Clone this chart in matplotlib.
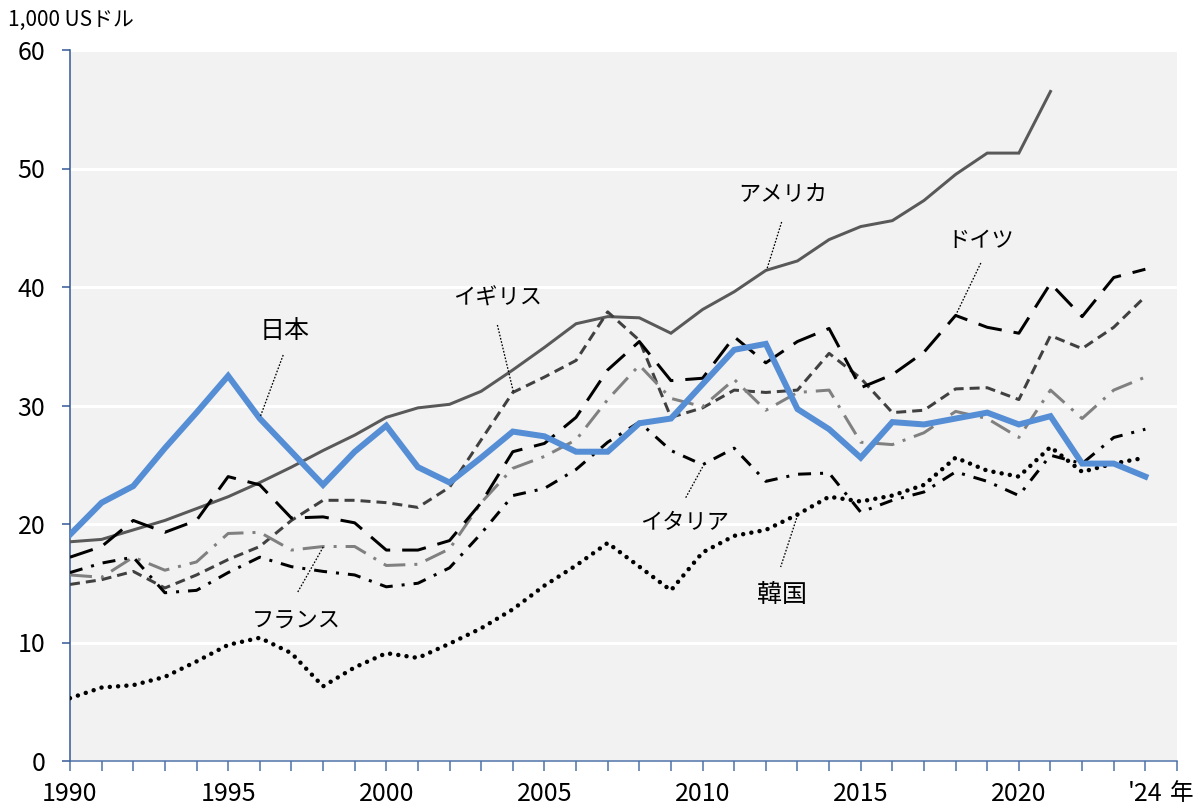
import matplotlib
matplotlib.use("Agg")
import matplotlib.pyplot as plt
import matplotlib.transforms as mtransforms

plt.rcParams['font.family'] = ['Noto Sans CJK JP', 'DejaVu Sans']
plt.rcParams['lines.scale_dashes'] = False

years = list(range(1990, 2025))

japan = [19.1, 21.8, 23.2, 26.4, 29.4, 32.5, 28.9, 26.1, 23.3, 26.1,
         28.3, 24.8, 23.5, 25.6, 27.8, 27.4, 26.1, 26.1, 28.5, 28.9,
         31.8, 34.7, 35.2, 29.7, 28.0, 25.6, 28.6, 28.4, 28.9, 29.4,
         28.4, 29.1, 25.1, 25.1, 24.0]
usa = [18.5, 18.7, 19.5, 20.3, 21.3, 22.3, 23.5, 24.8, 26.2, 27.5,
       29.0, 29.8, 30.1, 31.2, 33.0, 34.9, 36.9, 37.5, 37.4, 36.1,
       38.1, 39.6, 41.4, 42.2, 44.0, 45.1, 45.6, 47.3, 49.5, 51.3,
       51.3, 56.5]
germany = [17.2, 18.1, 20.3, 19.3, 20.3, 24.0, 23.3, 20.5, 20.6, 20.1,
           17.8, 17.8, 18.6, 21.8, 26.1, 26.8, 29.0, 33.0, 35.4, 32.1,
           32.3, 35.8, 33.6, 35.4, 36.5, 31.5, 32.6, 34.5, 37.6, 36.6,
           36.1, 40.3, 37.5, 40.8, 41.5]
uk = [14.9, 15.3, 16.0, 14.6, 15.7, 17.0, 18.1, 20.3, 22.0, 22.0,
      21.8, 21.4, 23.1, 27.1, 31.1, 32.4, 33.8, 37.9, 35.5, 29.0,
      29.8, 31.3, 31.1, 31.3, 34.4, 32.3, 29.4, 29.6, 31.4, 31.5,
      30.5, 35.9, 34.8, 36.6, 39.2]
france = [15.7, 15.5, 17.2, 16.1, 16.8, 19.2, 19.3, 17.8, 18.1, 18.1,
          16.5, 16.6, 17.9, 21.8, 24.7, 25.7, 27.1, 30.5, 33.4, 30.6,
          29.9, 32.2, 29.6, 31.1, 31.3, 26.9, 26.7, 27.7, 29.5, 28.9,
          27.3, 31.3, 28.9, 31.3, 32.4]
italy = [15.9, 16.7, 17.2, 14.2, 14.4, 15.9, 17.2, 16.4, 16.0, 15.7,
         14.7, 15.0, 16.3, 19.2, 22.4, 23.0, 24.6, 26.9, 28.6, 26.2,
         25.0, 26.4, 23.6, 24.2, 24.3, 21.0, 22.0, 22.7, 24.4, 23.6,
         22.4, 25.8, 25.1, 27.3, 28.0]
korea = [5.3, 6.2, 6.4, 7.1, 8.4, 9.8, 10.4, 9.1, 6.3, 7.9,
         9.1, 8.7, 9.9, 11.2, 12.8, 14.8, 16.5, 18.4, 16.4, 14.4,
         17.6, 19.0, 19.5, 20.8, 22.3, 21.9, 22.4, 23.3, 25.6, 24.5,
         24.0, 26.5, 24.4, 25.1, 25.6]

labels = ['日本', 'アメリカ', 'ドイツ', 'イギリス', 'フランス', 'イタリア', '韓国']

fig = plt.figure(figsize=(12, 8.09), dpi=100)
ax = fig.add_axes([70/1200, 48/809, 1107/1200, 711/809])
ax.set_facecolor('#F2F2F2')

px = 0.72  # points per pixel at 100 dpi


def yrs(v):
    return years[:len(v)]


ax.plot(yrs(usa), usa, color='#595959', lw=3*px, solid_joinstyle='miter', zorder=3)

l, = ax.plot(yrs(uk), uk, color='#404040', lw=3*px, zorder=3)
l.set_dashes([10*px, 6*px])

l, = ax.plot(yrs(france), france, color='#808080', lw=3*px, zorder=3)
l.set_dashes([22*px, 9*px, 3*px, 9*px])

l, = ax.plot(yrs(italy), italy, color='black', lw=3*px, zorder=3)
l.set_dashes([13*px, 9*px, 3*px, 9*px])

l, = ax.plot(yrs(germany), germany, color='black', lw=3*px, zorder=3)
l.set_dashes([24*px, 12*px])

l, = ax.plot(yrs(korea), korea, color='black', lw=4.5*px, zorder=3,
             dash_capstyle='round')
l.set_dashes([0.01, 8.3*px])

ax.plot(yrs(japan), japan, color='#558ED5', lw=6*px, zorder=4,
        solid_joinstyle='miter')

ax.set_xlim(1990, 2025)
ax.set_ylim(0, 60)

ax.set_yticks(range(0, 61, 10))
ax.yaxis.grid(True, color='white', lw=3*px)
ax.set_axisbelow(True)

xt = list(range(1990, 2026))
xl = []
for y in xt:
    if y in (1990, 1995, 2000, 2005, 2010, 2015, 2020):
        xl.append(str(y))
    elif y == 2024:
        xl.append("'24")
    else:
        xl.append('')
ax.set_xticks(xt)
ax.set_xticklabels(xl)

for s in ('top', 'right'):
    ax.spines[s].set_visible(False)
ax.spines['left'].set_color('#2F5597')
ax.spines['bottom'].set_color('#4A6FA5')
ax.spines['left'].set_linewidth(1.5*px)
ax.spines['bottom'].set_linewidth(1.5*px)
ax.tick_params(axis='y', length=8*px, width=1.5*px, color='#2F5597',
               labelsize=18, pad=12)
ax.tick_params(axis='x', length=10*px, width=1.5*px, color='#4A6FA5',
               labelsize=18, pad=7)


def X(p):
    return 1990 + (p - 70) / 31.6


def Y(p):
    return (761 - p) / 11.85


fig.canvas.draw()
tl = [t for t in ax.get_xticklabels() if t.get_text() == "'24"][0]
bb = tl.get_window_extent()
ax.text(X(1181), (bb.y0 + bb.y1) / 2, '年', fontsize=17, ha='center', va='center',
        transform=mtransforms.blended_transform_factory(ax.transData,
                                                        mtransforms.IdentityTransform()),
        clip_on=False)

fig.text(8/1200, 1 - 20/809, '1,000 USドル', fontsize=15, ha='left', va='center')


def lbl(text, tx, ty, x0, y0, x1, y1, fs=16):
    ax.text(tx, ty, text, fontsize=fs, ha='center', va='center', zorder=6)
    ax.plot([x0, x1], [y0, y1], color='black', lw=1.3*px, ls=(0, (1.2, 1.2)), zorder=5)


lbl('アメリカ', X(782), Y(195), X(781), Y(222), X(766), Y(270))
lbl('ドイツ', X(980), Y(240), X(980), Y(263), X(955), Y(315))
lbl('イギリス', X(497), Y(298), X(497), Y(325), X(513), Y(392))
lbl('日本', X(284), Y(331), X(283), Y(355), X(260), Y(417), fs=18)
lbl('イタリア', X(684), Y(523), X(702), Y(467), X(685), Y(498))
lbl('韓国', X(781), Y(595), X(797), Y(515), X(780), Y(567), fs=18)
lbl('フランス', X(296), Y(621), X(323), Y(547), X(297), Y(593))

fig.savefig('out.png', dpi=100)
